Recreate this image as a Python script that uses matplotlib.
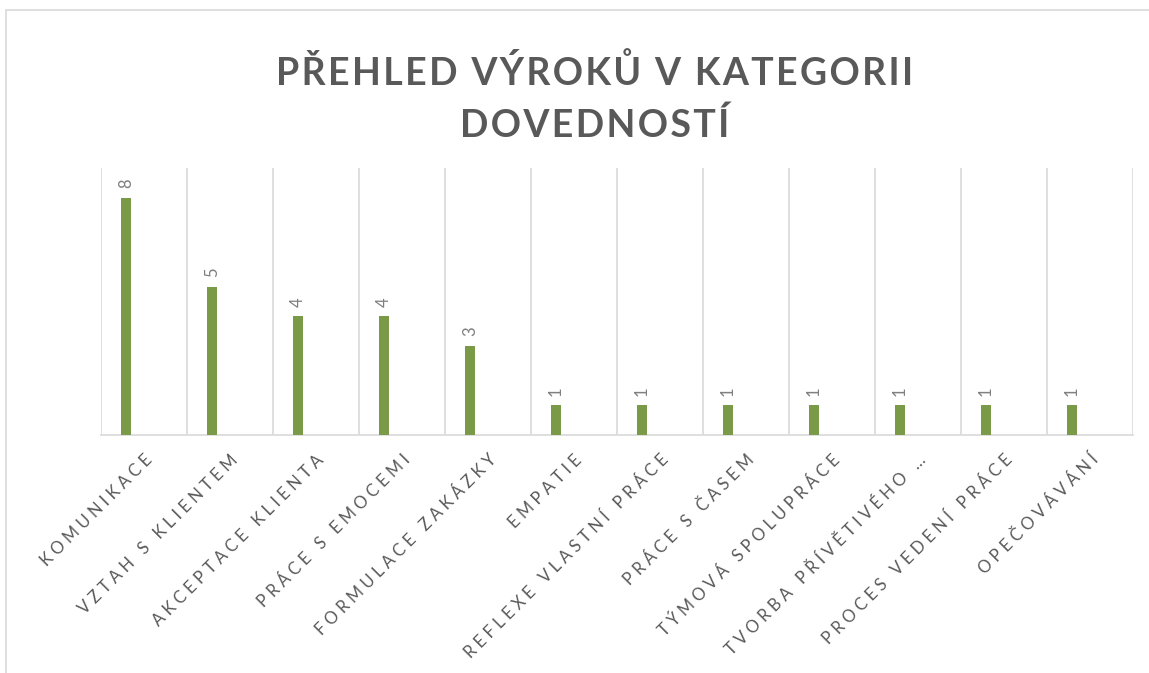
import matplotlib
matplotlib.use("Agg")
import matplotlib.pyplot as plt
from matplotlib.patches import Rectangle

categories = ["KOMUNIKACE", "VZTAH S KLIENTEM", "AKCEPTACE KLIENTA", "PRÁCE S EMOCEMI",
              "FORMULACE ZAKÁZKY", "EMPATIE", "REFLEXE VLASTNÍ PRÁCE", "PRÁCE S ČASEM",
              "TÝMOVÁ SPOLUPRÁCE", "TVORBA PŘÍVĚTIVÉHO …", "PROCES VEDENÍ PRÁCE", "OPEČOVÁVÁNÍ"]
values = [8, 5, 4, 4, 3, 1, 1, 1, 1, 1, 1, 1]
title_lines = ["PŘEHLED VÝROKŮ V KATEGORII", "DOVEDNOSTÍ"]

def spaced(s, sep="\u200a"):
    return sep.join(s)

FONT = ["Lato", "DejaVu Sans"]
W, H = 1149, 673
fig = plt.figure(figsize=(W / 100, H / 100), dpi=100)
fig.patch.set_facecolor("white")

# outer chart border
fig.add_artist(Rectangle((6 / W, -0.05), 1.2, (H - 10) / H + 0.05, transform=fig.transFigure,
                         fill=False, edgecolor="#D9D9D9", lw=1.2))

ax = fig.add_axes([101 / W, (H - 435) / H, (1133 - 101) / W, (435 - 168) / H])
n = len(categories)
xs = list(range(n))
bx = [x - 0.21 for x in xs]
ax.bar(bx, values, width=0.11, color="#7A9A47", zorder=3)
ax.set_xlim(-0.5, n - 0.5)
ax.set_ylim(0, 9)
for b in [i - 0.5 for i in range(n + 1)]:
    ax.axvline(b, color="#D9D9D9", lw=1.2, zorder=1)
for s in ["top", "right", "left"]:
    ax.spines[s].set_visible(False)
ax.spines["bottom"].set_color("#D9D9D9")
ax.spines["bottom"].set_linewidth(1.2)
ax.set_yticks([])
ax.set_xticks(xs)
ax.set_xticklabels([spaced(c, "\u2009\u2009") for c in categories], rotation=45, ha="right",
                   rotation_mode="anchor", fontsize=12, color="#595959", family=FONT)
ax.tick_params(axis="x", length=0, pad=12)

for x, v in zip(bx, values):
    ax.annotate(str(v), (x, v), xytext=(0, 7), textcoords="offset points", rotation=90,
                ha="center", va="bottom", fontsize=12, color="#7F7F7F", family=FONT)

fig.text(595 / W, 1 - 73 / H, spaced(title_lines[0]), ha="center", va="center",
         fontsize=27, fontweight="bold", color="#595959", family=FONT)
fig.text(595 / W, 1 - 125 / H, spaced(title_lines[1]), ha="center", va="center",
         fontsize=27, fontweight="bold", color="#595959", family=FONT)

fig.savefig("out.png", dpi=100)
